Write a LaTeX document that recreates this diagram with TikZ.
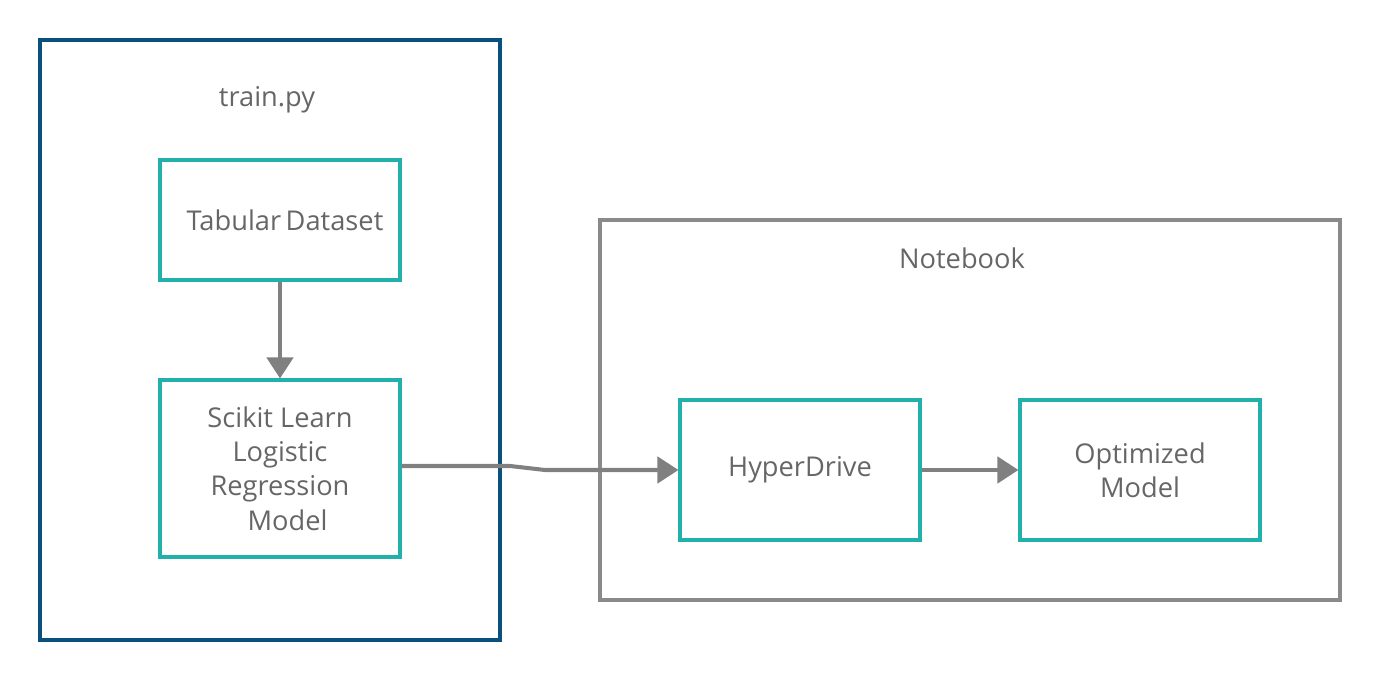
\documentclass[tikz,border=0pt]{standalone}
\usepackage{fontspec}
\setmainfont{Open Sans}
\usetikzlibrary{arrows.meta}
\definecolor{frameblue}{HTML}{0B4F7C}
\definecolor{framegray}{HTML}{8A8A8A}
\definecolor{boxteal}{HTML}{22B0AA}
\definecolor{textgray}{HTML}{666666}
\definecolor{arrowgray}{HTML}{808080}
\begin{document}
\begin{tikzpicture}[
        frame/.style={rectangle, draw=#1, line width=2.2pt, inner sep=0pt},
        block/.style={rectangle, draw=boxteal, line width=1.8pt, minimum width=4.8cm, text=textgray, font=\fontsize{15.5}{19.5}\selectfont, align=center},
        title/.style={text=textgray, font=\fontsize{15.5}{19.5}\selectfont},
        arrow/.style={-{Triangle[length=12pt, width=15pt]}, draw=arrowgray, line width=2.3pt}
    ]
    \useasboundingbox (0,0) rectangle (27.6,13.6);

    % Frames
    \node[frame=frameblue, minimum width=9.2cm, minimum height=12cm] (trainpy) at (5.4,6.8) {};
    \node[frame=framegray, line width=1.8pt, minimum width=14.8cm, minimum height=7.6cm] (notebook) at (19.4,5.4) {};
    \node[title] (trainlbl) at (5.34,11.6) {train.py};
    \node[title] (nblbl) at (19.24,8.44) {Notebook};

    % Blocks
    \node[block, minimum height=2.4cm] (tab) at (5.6,9.2) {\hspace*{0.2cm}Tabular\,Dataset};
    \node[block, minimum height=3.54cm] (sk) at (5.6,4.23) {Scikit Learn\\Logistic\\Regression\\\hspace*{0.3cm}Model};
    \node[block, minimum height=2.8cm] (hd) at (16,4.2) {HyperDrive};
    \node[block, minimum height=2.8cm] (opt) at (22.8,4.2) {Optimized\\Model};

    % Connectors
    \coordinate (k1) at (10.2,4.28);
    \coordinate (k2) at (10.9,4.2);
    \draw[arrow] (tab) -- (sk);
    \draw[arrow] (sk.east |- k1) -- (k1) -- (k2) -- (hd.west);
    \draw[arrow] (hd) -- (opt);

\end{tikzpicture}
\end{document}
